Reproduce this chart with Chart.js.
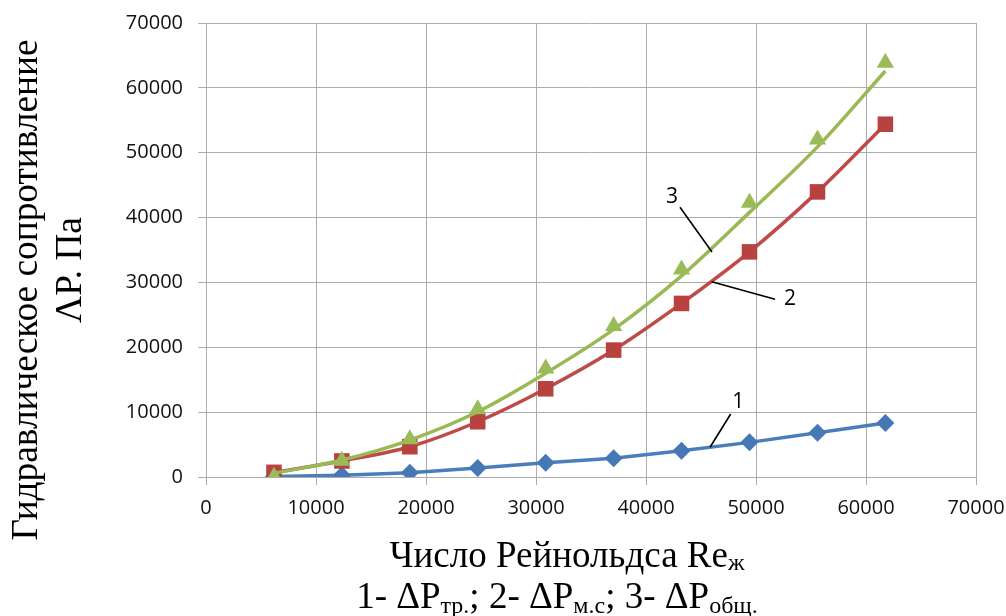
<!DOCTYPE html>
<html>
<head>
<meta charset="utf-8">
<script src="https://cdn.jsdelivr.net/npm/chart.js@4.4.1/dist/chart.umd.min.js"></script>
<style>
  html, body { margin: 0; padding: 0; background: #ffffff; }
  canvas { display: block; }
</style>
</head>
<body>
<canvas id="chart" width="1006" height="616"></canvas>
<script>
// Reynolds number of the liquid at each measurement
const reynolds = [6180, 12350, 18530, 24700, 30880, 37060, 43230, 49410, 55590, 61760];
// 1 - friction pressure loss, Pa
const dpFriction = [80, 260, 660, 1390, 2200, 2880, 4050, 5340, 6830, 8320];
// 2 - local resistance loss, Pa
const dpLocal = [720, 2470, 4670, 8520, 13600, 19570, 26760, 34710, 43960, 54390];
// 3 - total loss, Pa (measured points)
const dpTotal = [50, 2500, 5830, 10450, 16720, 23300, 32000, 42300, 52050, 63870];
// 3 - total loss, smoothed trend curve
const dpTotalTrend = [570, 2620, 5700, 10060, 16000, 22750, 31000, 40800, 50900, 62600];
// axis tick values (same for both axes)
const axisTicks = [0, 10000, 20000, 30000, 40000, 50000, 60000, 70000];

const pts = (ys) => reynolds.map((x, i) => ({ x: x, y: ys[i] }));

// numbered callouts: label position and leader line, in data units
const callouts = [
  { text: '3', at: [42360, 43160], from: [43090, 41590], to: [46000, 34690] },
  { text: '2', at: [53090, 27430], from: [51730, 27400], to: [45970, 30110] },
  { text: '1', at: [48390, 11600], from: [47700, 9710], to: [45820, 4580] }
];

const tickFont = { family: "'Open Sans', sans-serif", size: 20 };
const gridColor = '#adadad';
const serif = "'Liberation Serif', 'Times New Roman', serif";

function drawRich(ctx, parts, cx, baseline, size) {
  const main = size + 'px ' + serif;
  const sub = Math.round(size * 0.64) + 'px ' + serif;
  let total = 0;
  parts.forEach(p => {
    ctx.font = p.sub ? sub : main;
    p.w = ctx.measureText(p.t).width;
    total += p.w;
  });
  let x = cx - total / 2;
  ctx.textAlign = 'left';
  ctx.textBaseline = 'alphabetic';
  parts.forEach(p => {
    ctx.font = p.sub ? sub : main;
    ctx.fillText(p.t, x, baseline + (p.sub ? p.dy : 0));
    x += p.w;
  });
}

const annotations = {
  id: 'annotations',
  afterDatasetsDraw(chart) {
    const ctx = chart.ctx;
    const xs = chart.scales.x, ys = chart.scales.y;
    ctx.save();
    ctx.strokeStyle = '#000000';
    ctx.lineWidth = 1.6;
    ctx.fillStyle = '#000000';
    ctx.font = "21px 'Open Sans', sans-serif";
    ctx.textAlign = 'center';
    ctx.textBaseline = 'middle';
    callouts.forEach(c => {
      ctx.beginPath();
      ctx.moveTo(xs.getPixelForValue(c.from[0]), ys.getPixelForValue(c.from[1]));
      ctx.lineTo(xs.getPixelForValue(c.to[0]), ys.getPixelForValue(c.to[1]));
      ctx.stroke();
      ctx.fillText(c.text, xs.getPixelForValue(c.at[0]), ys.getPixelForValue(c.at[1]));
    });
    ctx.restore();
  },
  afterDraw(chart) {
    const ctx = chart.ctx;
    ctx.save();
    ctx.fillStyle = '#000000';
    // x-axis title, two lines
    drawRich(ctx, [
      { t: 'Число Рейнольдса Re' },
      { t: 'ж', sub: true, dy: 3 }
    ], 567, 567, 37);
    drawRich(ctx, [
      { t: '1- ΔP' }, { t: 'тр.', sub: true, dy: 5 },
      { t: '; 2- ΔP' }, { t: 'м.с', sub: true, dy: 5 },
      { t: '; 3- ΔP' }, { t: 'общ.', sub: true, dy: 5 }
    ], 557, 608, 37);
    // y-axis title, rotated
    ctx.font = '37.3px ' + serif;
    ctx.textAlign = 'center';
    ctx.textBaseline = 'alphabetic';
    ctx.save();
    ctx.translate(37, 290);
    ctx.rotate(-Math.PI / 2);
    ctx.fillText('Гидравлическое сопротивление', 0, 0);
    ctx.restore();
    ctx.save();
    ctx.translate(81, 270);
    ctx.rotate(-Math.PI / 2);
    ctx.fillText('ΛP. Па', 0, 0);
    ctx.restore();
    ctx.restore();
  }
};

new Chart(document.getElementById('chart'), {
  type: 'line',
  data: {
    datasets: [
      {
        label: '3 points',
        data: pts(dpTotal),
        showLine: false,
        pointStyle: 'triangle',
        pointRadius: 10,
        pointBackgroundColor: '#9bbb59',
        pointBorderColor: '#9bbb59',
        pointBorderWidth: 0,
        order: 0
      },
      {
        label: '3 trend',
        data: pts(dpTotalTrend),
        borderColor: '#98b954',
        borderWidth: 3.5,
        pointRadius: 0,
        cubicInterpolationMode: 'monotone',
        order: 1
      },
      {
        label: '2',
        data: pts(dpLocal),
        borderColor: '#be4b48',
        borderWidth: 3.5,
        cubicInterpolationMode: 'monotone',
        pointStyle: 'rect',
        pointRadius: 11,
        pointBackgroundColor: '#b8423f',
        pointBorderColor: '#b8423f',
        pointBorderWidth: 0,
        order: 2
      },
      {
        label: '1',
        data: pts(dpFriction),
        borderColor: '#4a7ebb',
        borderWidth: 3.5,
        tension: 0,
        pointStyle: 'rectRot',
        pointRadius: 9,
        pointBackgroundColor: '#4677b6',
        pointBorderColor: '#4677b6',
        pointBorderWidth: 0,
        order: 3
      }
    ]
  },
  options: {
    responsive: false,
    animation: false,
    devicePixelRatio: 1,
    layout: { padding: 0 },
    plugins: { legend: { display: false }, tooltip: { enabled: false } },
    scales: {
      x: {
        type: 'linear',
        min: axisTicks[0],
        max: axisTicks[axisTicks.length - 1],
        afterBuildTicks: s => { s.ticks = axisTicks.map(v => ({ value: v })); },
        afterFit: s => { s.height = 139; s.paddingRight = 30; s.paddingLeft = 0; },
        grid: { color: gridColor, lineWidth: 1, tickLength: 8, drawTicks: true },
        border: { color: gridColor, width: 1 },
        ticks: { font: tickFont, color: '#111111', padding: 11, maxRotation: 0, callback: v => String(v) }
      },
      y: {
        type: 'linear',
        min: axisTicks[0],
        max: axisTicks[axisTicks.length - 1],
        afterBuildTicks: s => { s.ticks = axisTicks.map(v => ({ value: v })); },
        afterFit: s => { s.width = 206; s.paddingTop = 23; s.paddingBottom = 0; },
        grid: { color: gridColor, lineWidth: 1, tickLength: 8, drawTicks: true },
        border: { color: gridColor, width: 1 },
        ticks: { font: tickFont, color: '#111111', padding: 15, callback: v => String(v) }
      }
    }
  },
  plugins: [annotations]
});
</script>
</body>
</html>
